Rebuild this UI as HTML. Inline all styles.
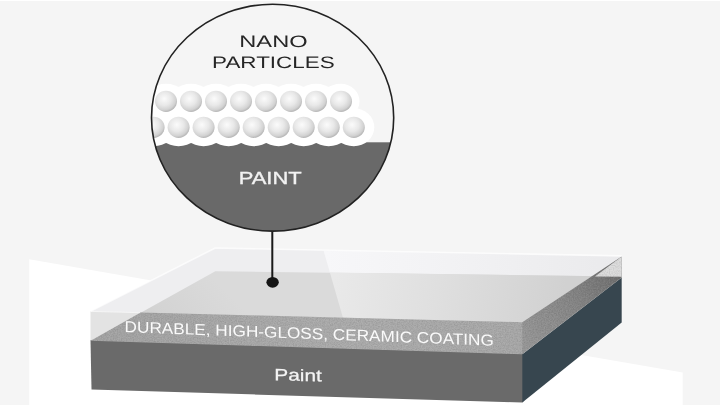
<!DOCTYPE html>
<html>
<head>
<meta charset="utf-8">
<style>
html,body{margin:0;padding:0;background:#f5f5f5;}
body{width:720px;height:405px;overflow:hidden;position:relative;font-family:"Liberation Sans",sans-serif;}
svg{position:absolute;left:0;top:0;display:block;filter:blur(0.45px);}
text{text-rendering:geometricPrecision;}
.t{filter:grayscale(1);}
text{font-family:"Liberation Sans",sans-serif;}
</style>
</head>
<body>
<svg width="720" height="405" viewBox="0 0 720 405">
<defs>
  <radialGradient id="ball" cx="0.42" cy="0.38" r="0.64">
    <stop offset="0" stop-color="#fbfbfb"/>
    <stop offset="0.5" stop-color="#e8e8e8"/>
    <stop offset="0.82" stop-color="#d2d2d2"/>
    <stop offset="1" stop-color="#b2b2b2"/>
  </radialGradient>
  <clipPath id="circ"><ellipse cx="272.6" cy="117.7" rx="121.1" ry="113.4"/></clipPath>
  <linearGradient id="gloss" gradientUnits="userSpaceOnUse" x1="335" y1="280" x2="560" y2="320">
    <stop offset="0" stop-color="#e9e9e9"/>
    <stop offset="0.45" stop-color="#dfdfdf"/>
    <stop offset="1" stop-color="#d1d1d1"/>
  </linearGradient>
  <linearGradient id="ptop" gradientUnits="userSpaceOnUse" x1="120" y1="345" x2="200" y2="265">
    <stop offset="0" stop-color="#c8c8c8"/>
    <stop offset="0.45" stop-color="#d3d3d3"/>
    <stop offset="1" stop-color="#dadada"/>
  </linearGradient>
  <linearGradient id="band" gradientUnits="userSpaceOnUse" x1="91" y1="0" x2="522" y2="0">
    <stop offset="0" stop-color="#a3a3a3"/>
    <stop offset="0.6" stop-color="#ababab"/>
    <stop offset="1" stop-color="#a8a8a8"/>
  </linearGradient>
  <linearGradient id="gside" gradientUnits="userSpaceOnUse" x1="522" y1="338" x2="622" y2="267">
    <stop offset="0" stop-color="#969696"/>
    <stop offset="0.5" stop-color="#868686"/>
    <stop offset="1" stop-color="#6c6c6c"/>
  </linearGradient>
  <linearGradient id="strip" gradientUnits="userSpaceOnUse" x1="325" y1="0" x2="620" y2="0">
    <stop offset="0" stop-color="#f7f7f9"/>
    <stop offset="0.35" stop-color="#f3f3f5"/>
    <stop offset="1" stop-color="#eaeaec"/>
  </linearGradient>
  <clipPath id="gtop"><polygon points="90.5,311.2 90.5,312.2 522.3,323.2 523.3,322.2 621.7,256.4 215.3,248"/></clipPath>
  <filter id="grain" x="0" y="0" width="100%" height="100%">
    <feTurbulence type="fractalNoise" baseFrequency="0.75" numOctaves="2" seed="3" result="n"/>
    <feColorMatrix in="n" type="matrix" values="0 0 0 0 1  0 0 0 0 1  0 0 0 0 1  1.6 0 0 0 -0.62"/>
  </filter>
  <filter id="grainD" x="0" y="0" width="100%" height="100%">
    <feTurbulence type="fractalNoise" baseFrequency="0.75" numOctaves="2" seed="11" result="n"/>
    <feColorMatrix in="n" type="matrix" values="0 0 0 0 0  0 0 0 0 0  0 0 0 0 0  1.6 0 0 0 -0.62"/>
  </filter>
  <clipPath id="grainclip"><polygon points="90.5,340.7 140.5,312.5 522.3,322.2 621.7,256.4 621.7,277.5 522.3,354.3"/></clipPath>
</defs>

<!-- background -->
<rect x="0" y="0" width="720" height="405" fill="#f5f5f5"/>
<rect x="0" y="0" width="720" height="1" fill="#ffffff"/>

<!-- white floor -->
<polygon points="29.2,259.2 682.7,372.6 682.7,405 29.2,405" fill="#ffffff"/>

<!-- paint block: front face -->
<polygon points="90.5,339.9 523.3,353.5 523.3,401.7 522.3,402.5 91.5,389.6" fill="#6a6a6a"/>
<!-- paint block: side face -->

<!-- glass top -->
<polygon points="90.5,311.2 90.5,312.2 522.3,323.2 523.3,322.2 621.7,256.4 215.3,248" fill="#eeeef0"/>
<g clip-path="url(#gtop)">
  <!-- lighter back strip right of gloss line -->
  <polygon points="323.7,250.9 640,240 640,285 330,273" fill="url(#strip)"/>
  <!-- paint top seen through glass -->
  <polygon points="90.5,340.7 215.3,271.3 621.7,276.5 640,360 91,360" fill="url(#ptop)"/>
  <!-- gloss -->
  <polygon points="329.9,272.6 621.7,276.5 640,360 346.5,330" fill="url(#gloss)"/>
</g>

<!-- glass front face -->
<polygon points="90.5,311.2 140.5,312.5 90.5,340.7" fill="#e3e3e3"/>
<polygon points="90.5,340.7 140.5,312.5 523.3,322.2 523.3,353.5 522.3,354.3" fill="url(#band)"/>

<!-- glass side face -->
<polygon points="522.3,354.3 621.7,277.5 621.7,322.5 522.3,402.5" fill="#37464f"/>
<polygon points="522.3,322.2 621.7,256.4 621.7,277.5 522.3,354.3" fill="url(#gside)"/>
<polygon points="595,276.4 621.7,256.4 621.7,276.8" fill="#dcdcdc"/>
<!-- grain on coating faces -->
<g clip-path="url(#grainclip)" opacity="0.12">
  <rect x="90" y="250" width="535" height="110" filter="url(#grain)"/>
  <rect x="90" y="250" width="535" height="110" filter="url(#grainD)"/>
</g>
<!-- glass edge highlights -->
<polyline points="90.5,311.2 215.3,248 621.7,255.9" fill="none" stroke="#ffffff" stroke-opacity="0.7" stroke-width="1.6" stroke-linejoin="round"/>
<line x1="90.5" y1="311.4" x2="140" y2="312.7" stroke="#ffffff" stroke-opacity="0.6" stroke-width="1"/>

<!-- slab labels -->
<g class="t" transform="translate(124.6,332.1) skewY(2.1)">
  <text x="0" y="0" font-size="15.8" fill="#fafafa" textLength="369.3" lengthAdjust="spacingAndGlyphs">DURABLE, HIGH-GLOSS, CERAMIC COATING</text>
</g>
<g class="t" transform="translate(274.2,380.3) skewY(1.3)">
  <text x="0" y="0" font-size="16.5" fill="#f4f4f4" stroke="#f4f4f4" stroke-width="0.25" textLength="47.6" lengthAdjust="spacingAndGlyphs">Paint</text>
</g>

<!-- stem and dot -->
<rect x="271.3" y="230" width="2" height="52" fill="#1a1a1a"/>
<ellipse cx="272.6" cy="282.3" rx="6.2" ry="5.4" fill="#151515"/>

<!-- magnifier circle -->
<ellipse cx="272.6" cy="117.7" rx="121.1" ry="113.4" fill="#f5f5f5"/>
<g clip-path="url(#circ)">
  <!-- paint -->
  <rect x="140" y="142.3" width="270" height="100" fill="#696969"/>
  <!-- white halo -->
  <g fill="#ffffff">
    <rect x="140" y="101" width="201" height="26"/>
  </g>
  <g fill="#ffffff">
    <ellipse cx="166.0" cy="101.3" rx="22" ry="17.5"/>
    <ellipse cx="191.0" cy="101.3" rx="22" ry="17.5"/>
    <ellipse cx="216.0" cy="101.3" rx="22" ry="17.5"/>
    <ellipse cx="241.0" cy="101.3" rx="22" ry="17.5"/>
    <ellipse cx="266.0" cy="101.3" rx="22" ry="17.5"/>
    <ellipse cx="291.0" cy="101.3" rx="22" ry="17.5"/>
    <ellipse cx="316.0" cy="101.3" rx="22" ry="17.5"/>
    <path d="M341,83.8 A18.5,17.5 0 0 1 341,118.8 A22,17.5 0 0 1 341,83.8 Z"/>
    <ellipse cx="153.6" cy="127.3" rx="22" ry="19"/>
    <ellipse cx="178.6" cy="127.3" rx="22" ry="19"/>
    <ellipse cx="203.6" cy="127.3" rx="22" ry="19"/>
    <ellipse cx="228.7" cy="127.3" rx="22" ry="19"/>
    <ellipse cx="253.7" cy="127.3" rx="22" ry="19"/>
    <ellipse cx="278.7" cy="127.3" rx="22" ry="19"/>
    <ellipse cx="303.7" cy="127.3" rx="22" ry="19"/>
    <ellipse cx="328.7" cy="127.3" rx="22" ry="19"/>
    <path d="M353.8,108.3 A20.5,19 0 0 1 353.8,146.3 A22,19 0 0 1 353.8,108.3 Z"/>
  </g>
  <g>
    <ellipse cx="166.0" cy="101.3" rx="11" ry="10.6" fill="url(#ball)"/>
    <ellipse cx="191.0" cy="101.3" rx="11" ry="10.6" fill="url(#ball)"/>
    <ellipse cx="216.0" cy="101.3" rx="11" ry="10.6" fill="url(#ball)"/>
    <ellipse cx="241.0" cy="101.3" rx="11" ry="10.6" fill="url(#ball)"/>
    <ellipse cx="266.0" cy="101.3" rx="11" ry="10.6" fill="url(#ball)"/>
    <ellipse cx="291.0" cy="101.3" rx="11" ry="10.6" fill="url(#ball)"/>
    <ellipse cx="316.0" cy="101.3" rx="11" ry="10.6" fill="url(#ball)"/>
    <ellipse cx="341.0" cy="101.3" rx="11" ry="10.6" fill="url(#ball)"/>
    <ellipse cx="153.6" cy="127.3" rx="11" ry="10.6" fill="url(#ball)"/>
    <ellipse cx="178.6" cy="127.3" rx="11" ry="10.6" fill="url(#ball)"/>
    <ellipse cx="203.6" cy="127.3" rx="11" ry="10.6" fill="url(#ball)"/>
    <ellipse cx="228.7" cy="127.3" rx="11" ry="10.6" fill="url(#ball)"/>
    <ellipse cx="253.7" cy="127.3" rx="11" ry="10.6" fill="url(#ball)"/>
    <ellipse cx="278.7" cy="127.3" rx="11" ry="10.6" fill="url(#ball)"/>
    <ellipse cx="303.7" cy="127.3" rx="11" ry="10.6" fill="url(#ball)"/>
    <ellipse cx="328.7" cy="127.3" rx="11" ry="10.6" fill="url(#ball)"/>
    <ellipse cx="353.8" cy="127.3" rx="11" ry="10.6" fill="url(#ball)"/>
  </g>
</g>
<ellipse cx="272.6" cy="117.7" rx="121.1" ry="113.4" fill="none" stroke="#222" stroke-width="1.6"/>

<!-- circle labels -->
<g class="t">
<text x="239.3" y="47" font-size="16.6" fill="#262626" textLength="68.3" lengthAdjust="spacingAndGlyphs">NANO</text>
<text x="212.1" y="67.7" font-size="16.6" fill="#262626" textLength="122.6" lengthAdjust="spacingAndGlyphs">PARTICLES</text>
<text x="238.7" y="184" font-size="17.5" fill="#f2f2f2" stroke="#f2f2f2" stroke-width="0.35" textLength="63" lengthAdjust="spacingAndGlyphs">PAINT</text>
</g>
</svg>
</body>
</html>
